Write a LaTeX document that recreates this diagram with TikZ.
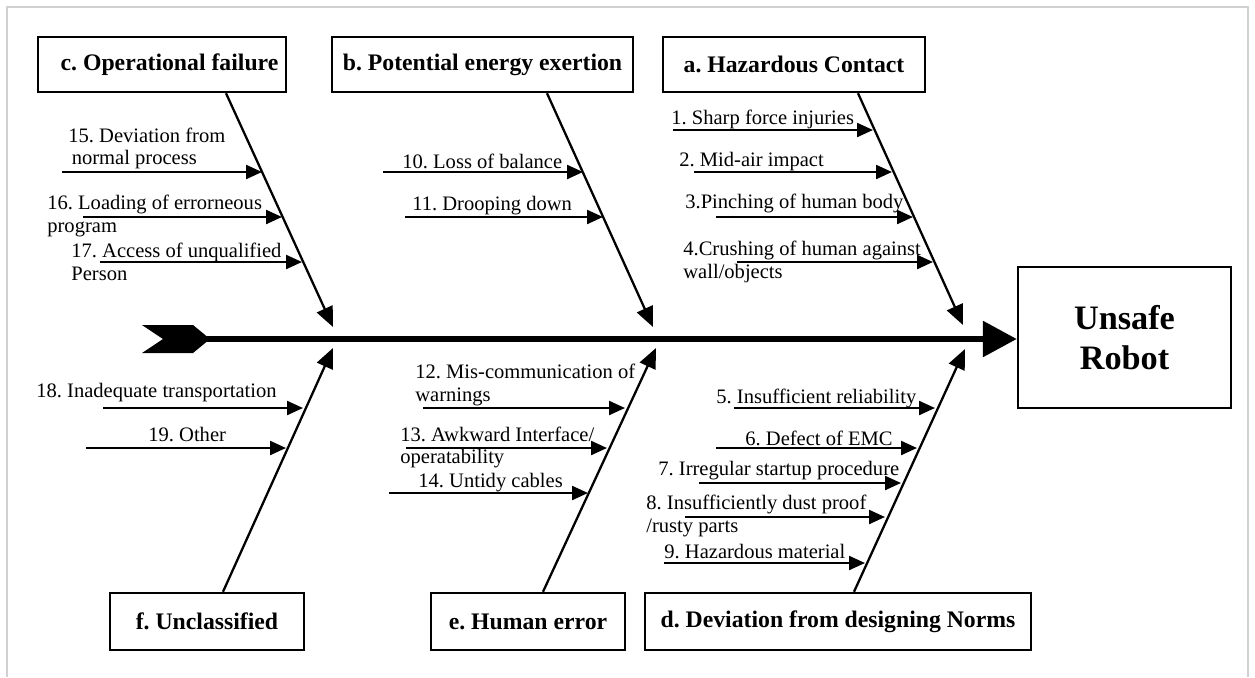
\documentclass[tikz,border=0pt]{standalone}
\usepackage{fontspec}
\setmainfont{Liberation Serif}
\usepackage{tikz}
\usetikzlibrary{calc,arrows.meta}
\frenchspacing
\tikzset{
	catbox/.style={draw, line width=1.4pt, inner sep=0pt, font=\fontsize{13.5}{16}\selectfont\bfseries},
	causelbl/.style={anchor=west, inner sep=0pt, align=left, font=\fontsize{11.7}{13}\selectfont},
	causearr/.style={line width=1.3pt, -{Triangle[length=0.32cm,width=0.28cm]}},
	bone/.style={line width=1.3pt, -{Triangle[length=0.4cm,width=0.34cm]}},
	spine/.style={line width=3.4pt, -{Triangle[length=0.68cm,width=0.7cm]}},
}
\def\cause#1(#2)(#3){\coordinate (#1s) at (#2); \coordinate (#1e) at (#3); \draw[causearr] (#1s) -- (#1e);}

\begin{document}
\begin{tikzpicture}[x=0.02cm, y=-0.02cm]
		%%%%% START %%%%%
		\useasboundingbox (0, 0) rectangle (1255, 677);
		\draw[line width=0.6pt, color=black!18] (7, 677) -- (7, 7) -- (1248, 7) -- (1248, 677);
		
		% categories
		\node[catbox, minimum width=4.96cm, minimum height=1.1cm] (opfail) at (162, 64.5) {\hspace{0.3cm}c. Operational failure};
		\node[catbox, minimum width=6.02cm, minimum height=1.1cm] (energy) at (482.5, 64.5) {b. Potential energy exertion};
		\node[catbox, minimum width=5.24cm, minimum height=1.1cm] (contact) at (794, 64.5) {a. Hazardous Contact};
		\node[catbox, minimum width=3.88cm, minimum height=1.14cm] (unclass) at (207, 621.5) {f. Unclassified};
		\node[catbox, minimum width=3.88cm, minimum height=1.14cm] (human) at (528, 621.5) {e. Human error};
		\node[catbox, minimum width=7.72cm, minimum height=1.14cm] (norms) at (838, 621.5) {d. Deviation from designing Norms};
		
		\node[draw, line width=1.4pt, minimum width=4.26cm, minimum height=2.82cm, align=center,
			font=\fontsize{19.5}{22.7}\selectfont\bfseries] (robot) at (1124.5, 337.5) {Unsafe\\Robot};
		
		% spine
		\fill (142, 325) -- (193, 325) -- (210, 339) -- (193, 353) -- (142, 353) -- (163, 339) -- cycle;
		\coordinate (tail) at (200, 339);
		\draw[spine] (tail) -- (tail -| robot.west);
		
		% bones
		\coordinate (ctip) at (333, 327);
		\coordinate (btip) at (653, 327);
		\coordinate (atip) at (963, 325);
		\coordinate (ftip) at (333, 348);
		\coordinate (etip) at (656, 348);
		\coordinate (dtip) at (965, 349);
		\draw[bone] ($(opfail.south)+(64, 0)$) -- (ctip);
		\draw[bone] ($(energy.south)+(64.5, 0)$) -- (btip);
		\draw[bone] ($(contact.south)+(64, 0)$) -- (atip);
		\draw[bone] ($(unclass.north)+(16, 0)$) -- (ftip);
		\draw[bone] ($(human.north)+(15, 0)$) -- (etip);
		\draw[bone] ($(norms.north)+(16, 0)$) -- (dtip);
		
		% c. operational failure
		\node[causelbl] (t15) at (68, 148.5) {15. Deviation from\\\,normal process};
		\node[causelbl] (t16) at (47, 216) {16. Loading of errorneous\\program};
		\node[causelbl] (t17) at (71, 261.5) {17. Access of unqualified\\Person};
		\cause{k15}(62, 172)(262, 172)
		\cause{k16}(83, 217)(282, 217)
		\cause{k17}(100, 262)(302, 262)
		
		% b. potential energy exertion
		\node[causelbl] (t10) at (402, 161) {10. Loss of balance};
		\node[causelbl] (t11) at (412, 206) {11. Drooping down};
		\cause{k10}(383, 172)(583, 172)
		\cause{k11}(405, 217)(603, 217)
		
		% a. hazardous contact
		\node[causelbl] (t1) at (671, 119) {1. Sharp force injuries};
		\node[causelbl] (t2) at (679, 162) {2. Mid-air impact};
		\node[causelbl] (t3) at (685, 203) {3.Pinching of human body};
		\node[causelbl] (t4) at (683, 262) {4.Crushing of human against\\wall/objects};
		\cause{k1}(673, 130)(873, 130)
		\cause{k2}(694, 172)(892, 172)
		\cause{k3}(716, 217)(913, 217)
		\cause{k4}(737, 262)(933, 262)
		
		% f. unclassified
		\node[causelbl] (t18) at (36, 393) {18. Inadequate transportation};
		\node[causelbl] (t19) at (148, 435) {19. Other};
		\cause{k18}(103, 408)(303, 408)
		\cause{k19}(86, 448)(286, 448)
		
		% e. human error
		\node[causelbl] (t12) at (415, 385) {12. Mis-communication of\\warnings};
		\node[causelbl] (t13) at (400, 447.5) {13. Awkward Interface/\\operatability};
		\node[causelbl] (t14) at (418, 483) {14. Untidy cables};
		\cause{k12}(423, 408)(625, 408)
		\cause{k13}(406, 448)(607, 448)
		\cause{k14}(389, 493)(588, 493)
		
		% d. deviation from designing norms
		\node[causelbl] (t5) at (716, 398) {5. Insufficient reliability};
		\node[causelbl] (t6) at (745, 438) {6. Defect of EMC};
		\node[causelbl] (t7) at (658, 471) {7. Irregular startup procedure};
		\node[causelbl] (t8) at (646, 516) {8. Insufficiently dust proof\\/rusty parts};
		\node[causelbl] (t9) at (664, 552) {9. Hazardous material};
		\cause{k5}(734, 408)(935, 408)
		\cause{k6}(716, 448)(917, 448)
		\cause{k7}(699, 483)(901, 483)
		\cause{k8}(685, 517)(885, 517)
		\cause{k9}(664, 563)(865, 563)
		
		%%%%% END %%%%%
\end{tikzpicture}
\end{document}
